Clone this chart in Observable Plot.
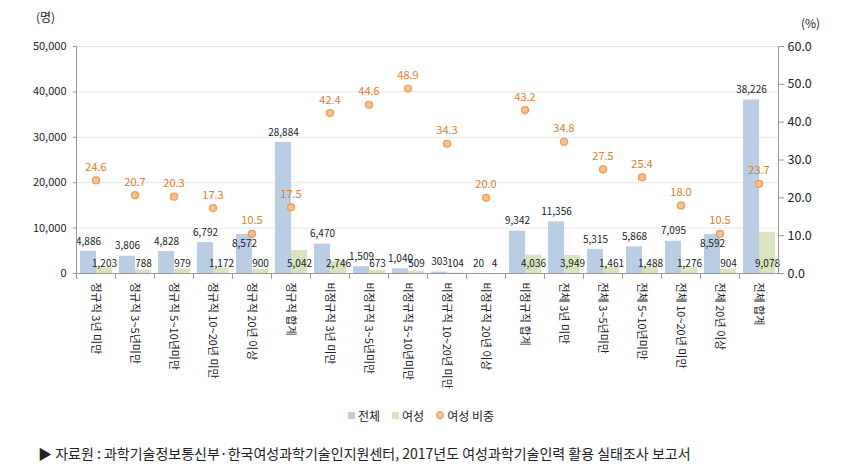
<!DOCTYPE html>
<html><head><meta charset="utf-8">
<script src="https://cdn.jsdelivr.net/npm/d3@7"></script>
<script src="https://cdn.jsdelivr.net/npm/@observablehq/plot@0.6"></script>
<style>
body{margin:0;background:#fff;font-family:"Noto Sans CJK KR","Noto Sans",sans-serif;}
#wrap{position:relative;width:842px;height:476px;}
.unit{position:absolute;font-size:12px;color:#222;}
#legend{position:absolute;top:405px;left:0;width:842px;text-align:center;font-size:12px;color:#222;}
#legend span{margin:0 6px;display:inline-flex;align-items:center;}
#legend i{display:inline-block;width:7px;height:7px;margin-right:3px;}
#caption{position:absolute;top:443px;left:38px;font-size:14px;color:#222;}
</style></head>
<body><div id="wrap">
<div class="unit" style="left:36px;top:8px;">(명)</div>
<div class="unit" style="left:801px;top:14px;">(%)</div>
<div id="chart"></div>
<div id="legend"><span><i style="background:#B9CDE5"></i>전체</span><span><i style="background:#D7E4BD"></i>여성</span><span><i style="background:#FAC090;border:1px solid #F79646;border-radius:50%;width:6px;height:6px"></i>여성 비중</span></div>
<div id="caption">▶ 자료원 : 과학기술정보통신부·한국여성과학기술인지원센터, 2017년도 여성과학기술인력 활용 실태조사 보고서</div>
</div>
<script>
const categories = ["정규직 3년 미만","정규직 3~5년미만","정규직 5~10년미만","정규직 10~20년 미만","정규직 20년 이상","정규직 합계","비정규직 3년 미만","비정규직 3~5년미만","비정규직 5~10년미만","비정규직 10~20년 미만","비정규직 20년 이상","비정규직 합계","전체 3년 미만","전체 3~5년미만","전체 5~10년미만","전체 10~20년 미만","전체 20년 이상","전체 합계"];
const totalValues = [4886,3806,4828,6792,8572,28884,6470,1509,1040,303,20,9342,11356,5315,5868,7095,8592,38226];
const femaleValues = [1203,788,979,1172,900,5042,2746,673,509,104,4,4036,3949,1461,1488,1276,904,9078];
const femaleShare = [24.6,20.7,20.3,17.3,10.5,17.5,42.4,44.6,48.9,34.3,20.0,43.2,34.8,27.5,25.4,18.0,10.5,23.7];
const leftTicks = [0,10000,20000,30000,40000,50000];
const rightTicks = [0,10,20,30,40,50,60];
const seriesNames = ["전체","여성"];

const LEFT_MAX = 50000, RIGHT_MAX = 60;
const toLeft = p => p * LEFT_MAX / RIGHT_MAX;

const bars = [];
categories.forEach((c,i)=>{
  bars.push({cat:c, series:"전체", value:totalValues[i], pct:femaleShare[i]});
  bars.push({cat:c, series:"여성", value:femaleValues[i], pct:femaleShare[i]});
});
const pts = categories.map((c,i)=>({cat:c, pct:femaleShare[i]}));
const fmt = d3.format(",");
// a total label that would collide with the share label just above it goes inside the bar
const collides = d => { const s = toLeft(d.pct); return s >= d.value && s - d.value < 3000; };

const chart = Plot.plot({
  width: 842, height: 400,
  marginLeft: 69, marginRight: 58, marginTop: 46, marginBottom: 127,
  style: {fontFamily: '"Noto Sans CJK KR","Noto Sans",sans-serif', fontSize: "11px", color:"#222"},
  fx: {domain: categories, padding: 0, label: null},
  x: {domain: seriesNames, paddingInner: 0, paddingOuter: 0.2, axis: null},
  y: {domain: [0, LEFT_MAX], label: null},
  color: {domain: seriesNames, range: ["#B9CDE5","#D7E4BD"]},
  marks: [
    Plot.gridY(leftTicks, {stroke:"#e8e8e8", strokeOpacity:1}),
    Plot.barY(bars, {fx:"cat", x:"series", y:"value", fill:"series"}),
    Plot.text(bars.filter(d=>d.series==="전체"), {fx:"cat", x:"series", y:"value", text:d=>fmt(d.value), dy:d=>0, fontSize:10, fill:"#222",
      filter: d => !collides(d), dy:-10}),
    Plot.text(bars.filter(d=>d.series==="전체" && collides(d)), {fx:"cat", x:"series", y:"value", text:d=>fmt(d.value), dy:9, fontSize:10, fill:"#222"}),
    Plot.text(bars.filter(d=>d.series==="여성"), {fx:"cat", x:"series", y:0, text:d=>fmt(d.value), dy:-10, fontSize:10, fill:"#222"}),
    Plot.dot(pts, {fx:"cat", y:d=>toLeft(d.pct), r:3.5, fill:"#FAC090", stroke:"#F79646", strokeWidth:1.2}),
    Plot.text(pts, {fx:"cat", y:d=>toLeft(d.pct), text:d=>d.pct.toFixed(1), dy:-13, fontSize:11, fill:"#E8782A"}),
    Plot.ruleY([0], {stroke:"#999"}),
    Plot.frame({anchor:"left", stroke:"#999", insetTop:227, insetBottom:-5}),
    Plot.frame({anchor:"left", stroke:"#999", facetAnchor:"left"}),
    Plot.frame({anchor:"right", stroke:"#999", facetAnchor:"right"}),
    Plot.axisY(leftTicks, {anchor:"left", tickFormat:d=>fmt(d), tickSize:3, stroke:"#999", tickPadding:7, label:null, fontSize:11}),
    Plot.axisY(rightTicks.map(toLeft), {anchor:"right", tickFormat:d=>(d*RIGHT_MAX/LEFT_MAX).toFixed(1), tickSize:5, stroke:"#999", tickPadding:4, label:null, fontSize:12.5}),
    Plot.axisFx({anchor:"bottom", tickRotate:90, tickSize:0, tickPadding:9, label:null, fontSize:11})
  ]
});
document.getElementById("chart").appendChild(chart);
</script>
</body></html>
